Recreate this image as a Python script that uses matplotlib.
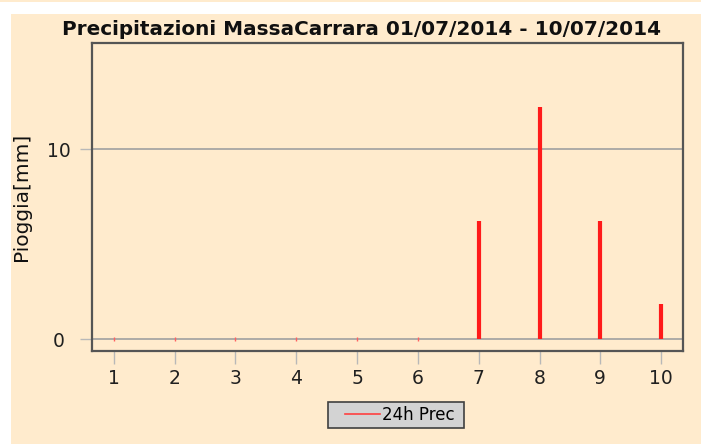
import matplotlib
matplotlib.use("Agg")
import matplotlib.pyplot as plt
from matplotlib.patches import Rectangle
from matplotlib.lines import Line2D

# dati precipitazioni giornaliere
giorni = [1, 2, 3, 4, 5, 6, 7, 8, 9, 10]
prec = [0, 0, 0, 0, 0, 0, 6.2, 12.25, 6.2, 1.85]
titolo = "Precipitazioni MassaCarrara 01/07/2014 - 10/07/2014"
serie = "24h Prec"

plt.rcParams['font.family'] = ['DejaVu Sans']
beige = '#ffebcd'

fig = plt.figure(figsize=(7.01, 4.44), dpi=100, facecolor='white')
# pannello di sfondo
fig.patches.append(Rectangle((11/701, 0), 690/701, 430/444, transform=fig.transFigure,
                             facecolor=beige, edgecolor='none', zorder=-10))
fig.patches.append(Rectangle((0, 442/444), 1, 2/444, transform=fig.transFigure,
                             facecolor=beige, edgecolor='none', zorder=-10))

ax = fig.add_axes([92/701, 93/444, 591/701, 308/444])
ax.set_facecolor(beige)

ax.vlines(giorni, 0, prec, colors='#ff1a1a', linewidth=3, zorder=3)
zeri = [g for g, p in zip(giorni, prec) if p == 0]
ax.plot(zeri, [0] * len(zeri), '|', color='#ff6060', markersize=3, zorder=3)

ax.set_xlim(0.64, 10.36)
ax.set_ylim(-0.63, 15.6)
ax.set_xticks(giorni)
ax.set_yticks([0, 10])
ax.yaxis.grid(True, color='#a0a0a0', linewidth=1.2)
ax.set_axisbelow(True)
ax.tick_params(axis='both', colors='#b8b8b8', labelcolor='#202020', labelsize=13.5,
               length=9, width=1)
ax.tick_params(axis='y', pad=15)
ax.tick_params(axis='x', pad=4)
for lab in ax.get_yticklabels():
    lab.set_horizontalalignment('center')
for s in ax.spines.values():
    s.set_color('#555555')
    s.set_linewidth(1.6)

fig.text(361/701, 1 - 35/444, titolo, fontsize=14.4, fontweight='bold',
         ha='center', va='baseline', color='#101010')
ax.set_ylabel("Pioggia[mm]", fontsize=14.5, color='#101010')
ax.yaxis.set_label_coords(-0.104, 0.5)

# riquadro legenda
fig.patches.append(Rectangle((328/701, 1 - 428/444), 136/701, 26/444, transform=fig.transFigure,
                             facecolor='#d3d3d3', edgecolor='#404040', linewidth=1.2, zorder=5))
h = Line2D([], [], color='#ff4040', linewidth=1.2)
leg = fig.legend([h], [serie], loc='center left', bbox_to_anchor=(345/701, 1 - 415/444),
                 fontsize=12, frameon=False, handlelength=2.1, handletextpad=0.1,
                 borderpad=0, borderaxespad=0)
leg.set_zorder(6)

fig.savefig("out.png", dpi=100, facecolor='white')
